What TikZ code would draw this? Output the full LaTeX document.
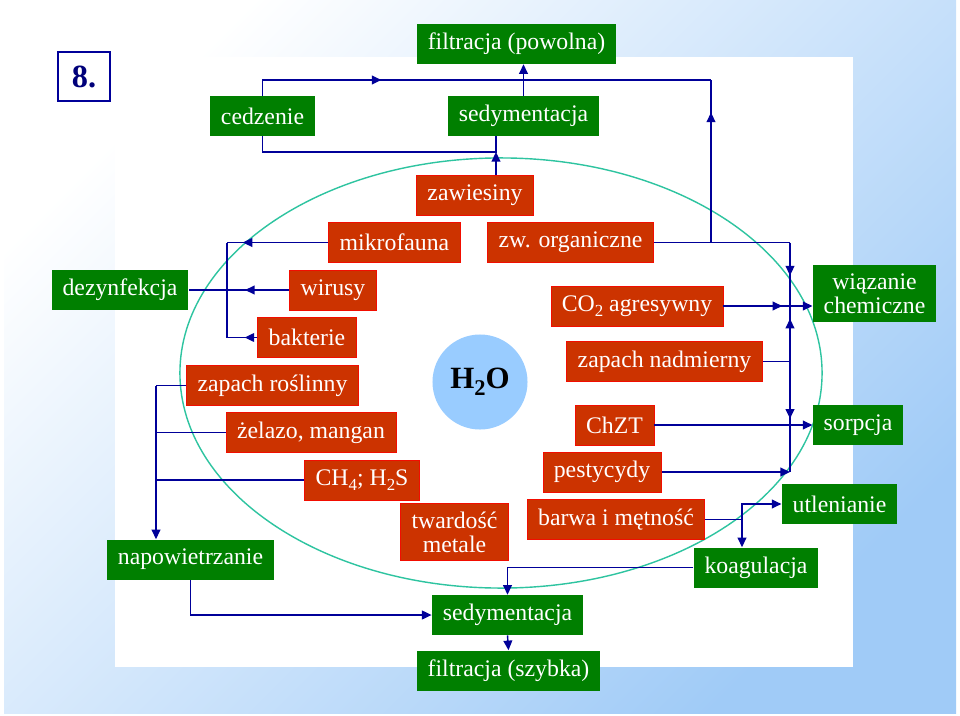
\documentclass[tikz,border=0pt]{standalone}
\usepackage{fontspec}
\setmainfont{Liberation Serif}
\usetikzlibrary{arrows.meta, decorations.markings}
\definecolor{zielony}{HTML}{007F00}
\definecolor{ceglany}{HTML}{CC3300}
\definecolor{granat}{HTML}{000099}
\definecolor{morski}{HTML}{2EC4A0}
\definecolor{niebo}{HTML}{99CCFF}
\definecolor{tlo}{HTML}{A0CBF7}
\newcommand{\dolny}[1]{\raisebox{-0.5ex}{\fontsize{12}{12}\selectfont #1}}

\begin{document}
\begin{tikzpicture}[
    x=0.025cm, y=-0.025cm,
    font=\fontsize{16.9}{17}\selectfont,
    proc/.style={fill=zielony, text=white, inner xsep=7.8pt, inner ysep=3pt,
        minimum height=1cm, align=center},
    zanie/.style={fill=ceglany, draw=red!75!ceglany, line width=0.5pt, text=white,
        inner xsep=7.8pt, inner ysep=3pt, minimum height=1cm, align=center},
    conn/.style={draw=granat, line width=1pt},
    arrow/.style={conn, -{Triangle[length=2.4mm, width=2.2mm]}},
    midarr/.style={conn, postaction=decorate, decoration={markings,
        mark=at position #1 with {\arrow{Triangle[length=2.4mm, width=2.2mm]}}}}
]
\useasboundingbox (0,0) rectangle (960,716);

% Background
\shade[top color=white, bottom color=tlo, shading angle=45] (4,1) rectangle (956,713);
\fill[white] (115,57) rectangle (853,667);
\node[draw=granat, line width=1pt, fill=white, text=granat!80!black,
    font=\fontsize{23}{24}\selectfont\bfseries, minimum width=1.3cm,
    minimum height=1.225cm] (nr) at (84,76.5) {8.};

% Water ellipse
\draw[morski, line width=1pt] (501,373) ellipse [x radius=8.025cm, y radius=5.375cm];

% Processes
\node[proc] (filP) at (516.5,44) {filtracja (powolna)};
\node[proc] (cedz) at (262.5,116) {cedzenie};
\node[proc] (sedT) at (523.5,116) {sedymentacja};
\node[proc] (dez) at (120,290) {dezynfekcja};
\node[proc] (napow) at (190.5,559.5) {napowietrzanie};
\node[proc] (sedB) at (507.5,615) {sedymentacja};
\node[proc] (filS) at (508.5,670.5) {filtracja (szybka)};
\node[proc] (koag) at (756,567.5) {koagulacja};
\node[proc] (utl) at (839.5,504) {utlenianie};
\node[proc, inner ysep=6pt] (wiaz) at (874.5,293.5) {wiązanie\\chemiczne};
\node[proc] (sorp) at (858,425) {sorpcja};

% Contaminants
\node[zanie] (zaw) at (475,195) {zawiesiny};
\node[zanie] (mikro) at (394.5,242.5) {mikrofauna};
\node[zanie] (zworg) at (570.5,242.5) {zw. organiczne};
\node[zanie] (wir) at (333,290) {wirusy};
\node[zanie] (bakt) at (307,337.5) {bakterie};
\node[zanie] (zapR) at (272.5,385.5) {zapach roślinny};
\node[zanie] (zel) at (311,432.5) {żelazo, mangan};
\node[zanie] (ch4) at (362,480) {CH\dolny{4}; H\dolny{2}S};
\node[zanie, inner ysep=6pt] (tward) at (454.5,532) {twardość\\metale};
\node[zanie] (co2) at (637,306) {CO\dolny{2} agresywny};
\node[zanie] (nadm) at (664.5,361.5) {zapach nadmierny};
\node[zanie] (chzt) at (614.5,425) {ChZT};
\node[zanie] (pest) at (602,472) {pestycydy};
\node[zanie] (barwa) at (616,519.5) {barwa i mętność};

\node[circle, fill=niebo, minimum size=2.375cm, inner sep=0pt,
    font=\fontsize{22}{24}\selectfont\bfseries] (h2o) at (480,382)
    {H\raisebox{-0.5ex}{\fontsize{16}{16}\selectfont 2}O};

% Junctions
\coordinate (jTop) at (711,80);
\coordinate (jOrg) at (711,242.5);
\coordinate (busTop) at (790,242.5);
\coordinate (jSed) at (496,152);
\coordinate (dBus) at (227,242.5);
\coordinate (nBus) at (156,385.5);
\coordinate (bJ) at (742,519.5);

% Top: slow filtration
\draw[arrow] (sedT.north) -- (sedT.north |- filP.south);
\draw[midarr=0.29] (cedz.north) |- (jTop);
\draw[midarr=0.8] (jOrg) -- (jTop);
\draw[arrow] (jSed |- zaw.north) -- (jSed);
\draw[conn] (cedz.south) |- (jSed) -- (jSed |- sedT.south);

% Right bus
\draw[conn] (zworg.east) -- (busTop);
\draw[midarr=0.52] (busTop) -- (busTop |- co2.east);
\draw[midarr=0.77] (busTop |- nadm.east) -- (busTop |- co2.east);
\draw[midarr=0.9] (busTop |- nadm.east) -- (busTop |- chzt.east);
\draw[conn] (busTop |- chzt.east) -- (busTop |- pest.east);
\draw[midarr=0.66, arrow] (co2.east) -- (co2.east -| wiaz.west);
\draw[conn] (nadm.east) -- (busTop |- nadm.east);
\draw[arrow] (chzt.east) -- (sorp.west);
\draw[arrow] (pest.east) -- (busTop |- pest.east);

% Left: disinfection
\draw[midarr=0.845] (mikro.west) -- (dBus);
\draw[conn] (dBus) -- (dBus |- bakt.west);
\draw[midarr=0.42] (bakt.west) -- (dBus |- bakt.west);
\draw[midarr=0.44] (wir.west) -- (dez.east);

% Left: aeration
\draw[conn] (zapR.west) -- (nBus);
\draw[arrow] (nBus) -- (nBus |- napow.north);
\draw[conn] (zel.west) -- (zel.west -| nBus);
\draw[conn] (ch4.west) -- (ch4.west -| nBus);
\draw[arrow] (napow.south) |- (sedB.west);

% Bottom: coagulation, sedimentation, fast filtration
\draw[arrow] (koag.west) -| (sedB.north);
\draw[arrow] (sedB.south) -- (filS.north);
\draw[conn] (barwa.east) -- (bJ);
\draw[arrow] (bJ) -- (bJ |- koag.north);
\draw[arrow] (bJ) |- (utl.west);

\end{tikzpicture}
\end{document}
